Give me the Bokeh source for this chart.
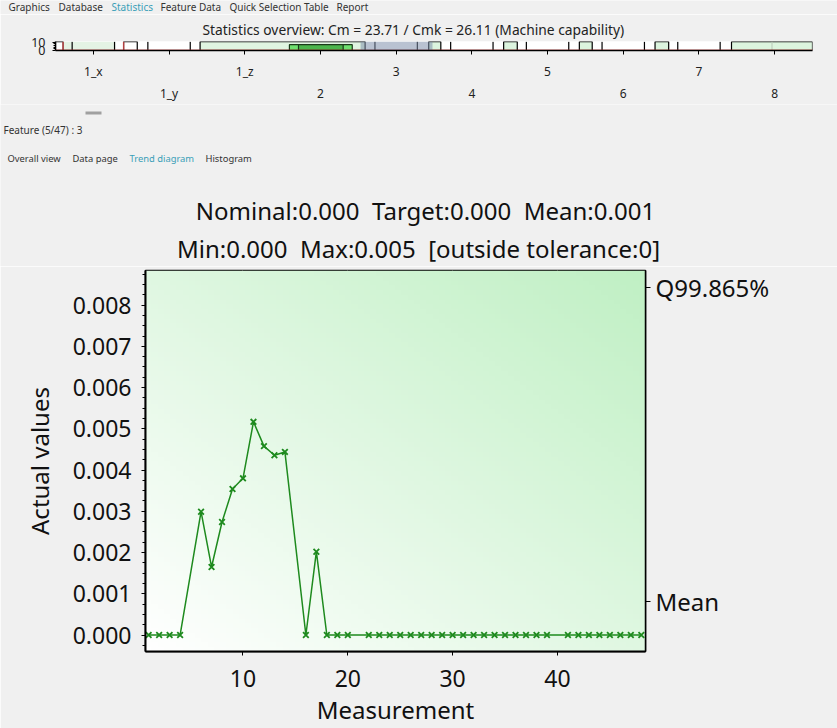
import numpy as np
from bokeh.plotting import figure
from bokeh.layouts import column
from bokeh.models import (Range1d, LinearAxis, FixedTicker, SingleIntervalTicker,
                          PrintfTickFormatter, Span)
from bokeh.core.properties import value
from bokeh.embed import file_html
from bokeh.resources import INLINE

# ---------------- data ----------------
menu_items = ["Graphics", "Database", "Statistics", "Feature Data", "Quick Selection Table", "Report"]
active_menu = "Statistics"
cm_value = 23.71
cmk_value = 26.11

overview_cats = ["1_x", "1_y", "1_z", "2", "3", "4", "5", "6", "7", "8"]
overview_selected = "3"
# tolerance markers (category indices that show them)
overview_tol_idx = [0, 1, 4, 5, 6, 7, 8]
overview_tol_half = 0.28
# result boxes in the overview strip (category units)
overview_box_left = [-0.50, 0.40, 1.41, 4.43, 5.42, 6.42, 7.42, 8.43]
overview_box_right = [-0.40, 0.58, 3.59, 4.59, 5.60, 6.59, 7.60, 9.50]
overview_box_top = [10.8, 10.8, 10.8, 10.8, 10.8, 10.8, 10.8, 10.8]
overview_box_fill = ["#ffffff", "#ffffff", "#e0f4e1", "#dcf4de", "#dcf4de", "#dcf4de", "#dcf4de", "#dcf4de"]
overview_band_left = [-0.41]
overview_band_right = [0.29]
overview_cap_left = [2.59, 2.71]
overview_cap_right = [3.42, 3.30]
overview_cap_top = [7.1, 7.1]
overview_cap_fill = ["#6fe06f", "#4cb54c"]

feature_index = 5
feature_count = 47
feature_name = "3"
tabs = ["Overall view", "Data page", "Trend diagram", "Histogram"]
active_tab = "Trend diagram"

measurement = [1, 2, 3, 4, 6, 7, 8, 9, 10, 11, 12, 13, 14, 16, 17, 18, 19, 20,
               22, 23, 24, 25, 26, 27, 28, 29, 30, 31, 32, 33, 34, 35, 36, 37, 38, 39,
               41, 42, 43, 44, 45, 46, 47, 48]
actual = [0.0, 0.0, 0.0, 0.0, 0.00299, 0.00165, 0.00274, 0.00354, 0.00380, 0.00517,
          0.00458, 0.00436, 0.00444, 0.0, 0.00202, 0.0, 0.0, 0.0,
          0.0, 0.0, 0.0, 0.0, 0.0, 0.0, 0.0, 0.0, 0.0, 0.0, 0.0, 0.0, 0.0, 0.0, 0.0, 0.0, 0.0, 0.0,
          0.0, 0.0, 0.0, 0.0, 0.0, 0.0, 0.0, 0.0]
nominal = 0.0
target = 0.0
q99865 = 0.00843
outside_tol = 0

mean_val = round(float(np.mean(actual)), 6)
min_val = min(actual)
max_val = max(actual)

# ---------------- style ----------------
FONT = "Noto Sans"
BG = "#f0f0f0"
TEAL = "#3a9fb8"
TXT = "#222222"
GREEN = "#1e8a1e"
W = 837
GAP = " \u00a0"


def text_fig(h):
    f = figure(width=W, height=h, x_range=Range1d(0, W), y_range=Range1d(h, 0),
               min_border=0, toolbar_location=None, output_backend="svg",
               x_axis_location=None, y_axis_location=None, frame_align=False,
               background_fill_color=BG, border_fill_color=BG, outline_line_color=None)
    f.grid.visible = False
    return f


# ---------------- head (menu) ----------------
head = text_fig(14)
menu_x = [8, 58, 111, 160, 229, 336]
head.text(x=menu_x, y=[6] * len(menu_items), text=menu_items,
          text_color=[TEAL if m == active_menu else "#333333" for m in menu_items],
          text_font=value(FONT), text_font_size=value("10px"), text_baseline="middle")

# ---------------- overview strip ----------------
s = figure(width=W, height=90, x_range=Range1d(-0.5, 9.5), y_range=Range1d(0, 11),
           min_border_left=55, min_border_right=25, min_border_top=27, min_border_bottom=49,
           toolbar_location=None, output_backend="svg", frame_align=False,
           x_axis_location=None, y_axis_location=None,
           background_fill_color="white", border_fill_color=BG, outline_line_color=None)
s.title.text = f"Statistics overview: Cm = {cm_value:.2f} / Cmk = {cmk_value:.2f} (Machine capability)"
s.title.align = "left"
s.title.offset = 147
s.title.standoff = 6
s.title.text_font = FONT
s.title.text_font_size = "13.8px"
s.title.text_font_style = "normal"
s.title.text_color = TXT
s.grid.visible = False
s.quad(left=overview_band_left, right=overview_band_right, bottom=0, top=11,
       fill_color="#e4f3e4", line_color=None)
s.quad(left=overview_box_left, right=overview_box_right, bottom=0, top=overview_box_top,
       fill_color=overview_box_fill, line_color="black", line_width=1.2)
s.quad(left=overview_cap_left, right=overview_cap_right, bottom=0, top=overview_cap_top,
       fill_color=overview_cap_fill, line_color="#1a3a1a", line_width=1.2)
tol_x = []
for i in overview_tol_idx:
    tol_x += [i - overview_tol_half, i + overview_tol_half]
s.segment(x0=tol_x, y0=0, x1=tol_x, y1=10.8, line_color="black", line_width=1.2)
mid8 = overview_box_left[-1] + (overview_box_right[-1] - overview_box_left[-1]) / 2
s.segment(x0=[mid8], y0=0, x1=[mid8], y1=10.8, line_color="#b8c8b8", line_width=1)
# red value trace
s.line(x=[-0.5, 9.5], y=[0.4, 0.4], line_color="#e04848", line_alpha=0.7, line_width=1.5)
s.segment(x0=[overview_box_right[0], overview_box_left[1]], y0=0,
          x1=[overview_box_right[0], overview_box_left[1]], y1=10.8,
          line_color="#e05050", line_width=1.5, line_alpha=0.8)
sel = overview_cats.index(overview_selected)
s.quad(left=[sel - 0.47], right=[sel + 0.48], bottom=0, top=11,
       fill_color="#7f8fab", fill_alpha=0.55, line_color=None)

ly = LinearAxis(ticker=FixedTicker(ticks=[0, 10], minor_ticks=[2, 4, 6, 8]),
                major_label_text_font=FONT, major_label_text_font_size="12.5px",
                major_label_text_color=TXT, major_tick_out=3, major_tick_in=0,
                minor_tick_out=2, minor_tick_in=0, major_label_standoff=7,
                axis_line_color="black", axis_line_width=1.5)
s.add_layout(ly, "left")
ticks_all = list(range(len(overview_cats)))
ax1 = LinearAxis(ticker=FixedTicker(ticks=ticks_all),
                 major_label_overrides={i: (c if i % 2 == 0 else " ") for i, c in enumerate(overview_cats)},
                 major_label_text_font=FONT, major_label_text_font_size="12px",
                 major_label_text_color=TXT, major_tick_out=4, major_tick_in=0,
                 minor_tick_out=0, major_label_standoff=8,
                 axis_line_color="black", axis_line_width=1.5)
ax2 = LinearAxis(ticker=FixedTicker(ticks=ticks_all),
                 major_label_overrides={i: (c if i % 2 == 1 else " ") for i, c in enumerate(overview_cats)},
                 major_label_text_font=FONT, major_label_text_font_size="12px",
                 major_label_text_color=TXT, major_tick_out=0, major_tick_in=0,
                 minor_tick_out=0, major_label_standoff=2, axis_line_color=None)
s.add_layout(ax1, "below")
s.add_layout(ax2, "below")

# ---------------- feature / tabs / chart title ----------------
foot = text_fig(162)
foot.quad(left=[85], right=[101], top=[7], bottom=[10], fill_color="#a0a0a0", line_color=None)
foot.text(x=[3], y=[25], text=[f"Feature ({feature_index}/{feature_count}) : {feature_name}"],
          text_color="#333333", text_font=value(FONT), text_font_size=value("10px"),
          text_baseline="middle")
foot.text(x=[7, 72, 129, 205], y=[54] * 4, text=tabs,
          text_color=[TEAL if t == active_tab else "#333333" for t in tabs],
          text_font=value(FONT), text_font_size=value("9.4px"), text_baseline="middle")
line1 = f"Nominal:{nominal:.3f}{GAP}Target:{target:.3f}{GAP}Mean:{mean_val:.3f}"
line2 = f"Min:{min_val:.3f}{GAP}Max:{max_val:.3f}{GAP}[outside tolerance:{outside_tol}]"
foot.text(x=[425, 418], y=[106, 144], text=[line1, line2], text_color="#111111",
          text_font=value(FONT), text_font_size=value("24px"),
          text_baseline="middle", text_align="center")

# ---------------- main trend chart ----------------
p = figure(width=W, height=462, x_range=Range1d(0.7, 48.4), y_range=Range1d(-0.0004, 0.00884),
           min_border_left=145, min_border_right=192, min_border_top=4, min_border_bottom=76,
           toolbar_location=None, output_backend="svg", frame_align=False,
           background_fill_color="white", border_fill_color=BG,
           outline_line_color="black", outline_line_width=1.5)

# background gradient (white bottom-left -> light green top-right)
nx, ny = 80, 80
gx, gy = np.meshgrid(np.linspace(0, 1, nx), np.linspace(0, 1, ny))
t = (gx + gy) / 2.0
img = np.empty((ny, nx), dtype=np.uint32)
view = img.view(dtype=np.uint8).reshape((ny, nx, 4))
view[..., 0] = (255 - t * (255 - 192)).astype(np.uint8)
view[..., 1] = (255 - t * (255 - 240)).astype(np.uint8)
view[..., 2] = (255 - t * (255 - 196)).astype(np.uint8)
view[..., 3] = 255
xr, yr = p.x_range, p.y_range
p.image_rgba(image=[img], x=xr.start, y=yr.start, dw=xr.end - xr.start, dh=yr.end - yr.start)

p.xaxis.ticker = SingleIntervalTicker(interval=10, num_minor_ticks=0)
p.yaxis.ticker = SingleIntervalTicker(interval=0.001, num_minor_ticks=4)
p.yaxis.formatter = PrintfTickFormatter(format="%.3f")
for ax in (p.xaxis, p.yaxis):
    ax.major_label_text_font = FONT
    ax.major_label_text_font_size = "23px"
    ax.major_label_text_color = "#111111"
    ax.axis_label_text_font = FONT
    ax.axis_label_text_font_size = "24px"
    ax.axis_label_text_font_style = "normal"
    ax.axis_label_text_color = "#111111"
    ax.axis_line_color = "black"
    ax.axis_line_width = 2
    ax.major_tick_line_color = "black"
    ax.minor_tick_line_color = "black"
    ax.major_tick_out = 4
    ax.major_tick_in = 0
    ax.minor_tick_out = 3
    ax.minor_tick_in = 0
p.yaxis.axis_label = "Actual values"
p.yaxis.major_label_standoff = 10
p.yaxis.axis_label_standoff = 14
p.xaxis.axis_label = "Measurement"
p.xaxis.major_label_standoff = 14
p.xaxis.axis_label_standoff = 3

for g in (p.xgrid, p.ygrid):
    g.grid_line_color = "#b4b4b4"
    g.grid_line_dash = "4 3"
    g.grid_line_width = 1

ra = LinearAxis(ticker=FixedTicker(ticks=[q99865, mean_val]),
                major_label_overrides={q99865: "Q99.865%", mean_val: "Mean"},
                major_label_text_font=FONT, major_label_text_font_size="24px",
                major_label_text_color="#111111", major_tick_out=5, major_tick_in=0,
                minor_tick_out=0, major_label_standoff=5,
                axis_line_color="black", axis_line_width=1.5)
p.add_layout(ra, "right")

p.add_layout(Span(location=nominal, dimension="width", line_color="#dc6e6e",
                  line_width=1.2, level="underlay"))
p.add_layout(Span(location=q99865, dimension="width", line_color="#7777cc",
                  line_width=1.2, level="underlay"))
p.add_layout(Span(location=mean_val, dimension="width", line_color="#7777cc",
                  line_width=1.2, level="underlay"))

p.line(x=measurement, y=actual, line_color=GREEN, line_width=1.5)
p.scatter(x=measurement, y=actual, marker="x", size=8, line_color=GREEN, line_width=1.8)

layout = column(head, s, foot, p, spacing=0)
open("out.html", "w").write(file_html(layout, INLINE))
